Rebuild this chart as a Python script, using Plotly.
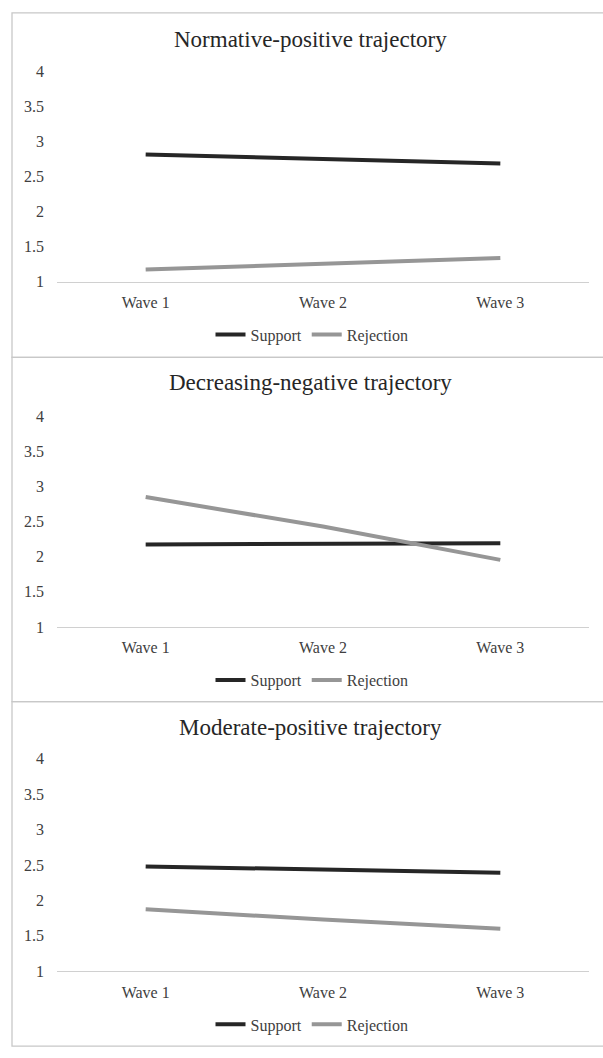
import plotly.graph_objects as go

W, H = 603, 1058

waves = ["Wave 1", "Wave 2", "Wave 3"]
panel_titles = ["Normative-positive trajectory",
                "Decreasing-negative trajectory",
                "Moderate-positive trajectory"]
support = [
    [2.81, 2.75, 2.68],
    [2.175, 2.18, 2.19],
    [2.48, 2.435, 2.39],
]
rejection = [
    [1.17, 1.25, 1.335],
    [2.85, 2.43, 1.955],
    [1.875, 1.73, 1.60],
]
y_ticks = [1, 1.5, 2, 2.5, 3, 3.5, 4]
y_tick_labels = ["1", "1.5", "2", "2.5", "3", "3.5", "4"]

FONT = "Liberation Serif, Times New Roman, serif"
SUP_C = "#262626"
REJ_C = "#969696"
TXT_C = "#404040"


def py(v):
    return 1 - v / H


# pixel layout per panel: (plot top px, plot bottom px, title px, legend px, box top, box bottom)
panels = [
    (64, 278, 32, 332, 5, 355),
    (415, 629, 381, 683, 355, 705),
    (763, 979, 731, 1033, 705, 1055),
]

fig = go.Figure()
layout = dict(
    width=W, height=H,
    margin=dict(l=0, r=0, t=0, b=0),
    paper_bgcolor="white", plot_bgcolor="white",
    font=dict(family=FONT, size=16, color=TXT_C),
    showlegend=True,
)
annotations = []
shapes = []

for i in range(3):
    top, bot, ty, ly, bt, bb = panels[i]
    sfx = "" if i == 0 else str(i + 1)
    xa = "x" + sfx
    ya = "y" + sfx
    lg = "legend" + sfx
    fig.add_trace(go.Scatter(x=waves, y=support[i], mode="lines", name="Support",
                             line=dict(color=SUP_C, width=4), xaxis=xa, yaxis=ya,
                             legend=lg, hoverinfo="skip"))
    fig.add_trace(go.Scatter(x=waves, y=rejection[i], mode="lines", name="Rejection",
                             line=dict(color=REJ_C, width=4), xaxis=xa, yaxis=ya,
                             legend=lg, hoverinfo="skip"))
    layout["xaxis" + sfx] = dict(
        domain=[57 / W, 589 / W], anchor=ya, type="category",
        range=[-0.5, 2.5], showgrid=False, zeroline=False,
        showline=True, linecolor="#d0d0d0", linewidth=1.3,
        ticks="", ticklabelstandoff=6,
        tickfont=dict(family=FONT, size=16, color=TXT_C),
    )
    layout["yaxis" + sfx] = dict(
        domain=[py(bot), py(top)], anchor=xa, range=[1, 4],
        tickvals=y_ticks, ticktext=y_tick_labels,
        showgrid=False, zeroline=False, showline=False, ticks="",
        ticklabelstandoff=12,
        tickfont=dict(family=FONT, size=16, color=TXT_C),
    )
    layout[lg] = dict(
        orientation="h", x=312 / W, xanchor="center", y=py(ly), yanchor="middle",
        font=dict(family=FONT, size=16, color=TXT_C),
        itemwidth=30, tracegroupgap=0, bgcolor="rgba(0,0,0,0)",
    )
    annotations.append(dict(
        text=panel_titles[i], x=310 / W, y=py(ty), xref="paper", yref="paper",
        xanchor="center", yanchor="middle", showarrow=False,
        font=dict(family=FONT, size=23, color="#262626"),
    ))
    shapes.append(dict(
        type="rect", xref="paper", yref="paper",
        x0=12 / W, x1=1.02, y0=py(bb), y1=py(bt),
        line=dict(color="#c8c8c8", width=1.3), fillcolor="rgba(0,0,0,0)",
    ))

layout["annotations"] = annotations
layout["shapes"] = shapes
fig.update_layout(**layout)
fig.write_html(
    "out.html",
    config={"displayModeBar": False},
    post_script="document.body.style.margin='0';document.body.style.overflow='hidden';",
)
